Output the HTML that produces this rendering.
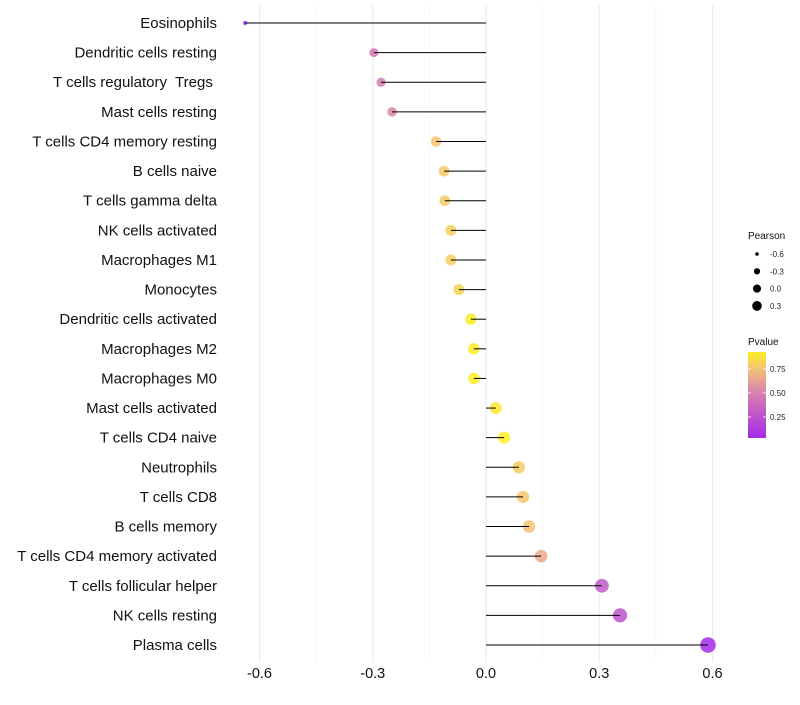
<!DOCTYPE html>
<html><head><meta charset="utf-8"><style>
body{margin:0;background:#fff;font-family:"Liberation Sans",sans-serif;}
svg text{font-family:"Liberation Sans",sans-serif;white-space:pre;}
</style></head><body>
<svg id="chart" width="800" height="700" xmlns="http://www.w3.org/2000/svg"></svg>
<script>
const categories=["Eosinophils","Dendritic cells resting","T cells regulatory  Tregs ","Mast cells resting","T cells CD4 memory resting","B cells naive","T cells gamma delta","NK cells activated","Macrophages M1","Monocytes","Dendritic cells activated","Macrophages M2","Macrophages M0","Mast cells activated","T cells CD4 naive","Neutrophils","T cells CD8","B cells memory","T cells CD4 memory activated","T cells follicular helper","NK cells resting","Plasma cells"];
const pearson=[-0.638,-0.297,-0.278,-0.249,-0.132,-0.111,-0.109,-0.093,-0.093,-0.072,-0.040,-0.032,-0.032,0.026,0.048,0.087,0.098,0.114,0.146,0.307,0.355,0.588];
const pvalue=[0.04,0.45,0.47,0.52,0.76,0.79,0.79,0.81,0.81,0.83,0.93,0.93,0.93,0.91,0.93,0.8,0.78,0.76,0.66,0.3,0.26,0.05];
const xTicks=[-0.6,-0.3,0.0,0.3,0.6];
const xTickLabels=["-0.6","-0.3","0.0","0.3","0.6"];
const sizeLegend=[-0.6,-0.3,0.0,0.3];
const sizeLegendLabels=["-0.6","-0.3","0.0","0.3"];
const colorLegend=[0.25,0.5,0.75];
const colorLegendLabels=["0.25","0.50","0.75"];

const NS="http://www.w3.org/2000/svg";
const svg=document.getElementById('chart');
const X=v=>486+v*377.5;
const Y=i=>23+i*29.62;
const R=v=>Math.sqrt(Math.max(1,34+46*v));
const stops=[[0,[160,32,240]],[0.5,[215,128,176]],[0.75,[243,192,120]],[1,[255,255,0]]];
function col(p){for(let i=1;i<stops.length;i++){if(p<=stops[i][0]){const a=stops[i-1],b=stops[i];const t=(p-a[0])/(b[0]-a[0]);const c=a[1].map((v,k)=>Math.round(v+(b[1][k]-v)*t));return `rgb(${c})`;}}return 'rgb(255,255,0)';}
function mk(tag,attrs,parent){const e=document.createElementNS(NS,tag);for(const k in attrs)e.setAttribute(k,attrs[k]);(parent||svg).appendChild(e);return e;}

const minor=[-0.45,-0.15,0.15,0.45];
minor.forEach(v=>{const l=mk('line',{x1:X(v),x2:X(v),y1:5,y2:662,stroke:'#f2f2f2','stroke-width':0.6});

});
xTicks.forEach((v,i)=>{const l=mk('line',{x1:X(v),x2:X(v),y1:5,y2:662,stroke:'#ebebeb','stroke-width':1.1});


const t=mk('text',{x:X(v),y:678,'text-anchor':'middle','font-size':14.5,fill:'#111'});t.textContent=xTickLabels[i];

});

categories.forEach((c,i)=>{
const t=mk('text',{x:217,y:Y(i)+5,'text-anchor':'end','font-size':15,fill:'#111'});t.textContent=c;


const p=mk('circle',{cx:X(pearson[i]),cy:Y(i),r:R(pearson[i]),fill:col(pvalue[i]),'fill-opacity':0.85});


const l=mk('line',{x1:X(0),x2:X(pearson[i]),y1:Y(i),y2:Y(i),stroke:'#000','stroke-width':1});


});

const st=mk('text',{x:748,y:239,'font-size':10,fill:'#111'});st.textContent='Pearson';


sizeLegend.forEach((v,i)=>{const y=254+i*17.3;
const c=mk('circle',{cx:757,cy:y,r:R(v)*0.7,fill:'#000'});


const t=mk('text',{x:770,y:y+3,'font-size':8,fill:'#222'});t.textContent=sizeLegendLabels[i];

});

const ct=mk('text',{x:748,y:345,'font-size':10,fill:'#111'});ct.textContent='Pvalue';


const defs=mk('defs',{});const g=mk('linearGradient',{id:'pg',x1:0,y1:1,x2:0,y2:0},defs);
for(let k=0;k<=10;k++){const p=0.04+k*0.089;mk('stop',{offset:k/10,'stop-color':col(p)},g);}
const bar=mk('rect',{x:748,y:352,width:18,height:86,fill:'url(#pg)'});


const CY=p=>441-p*96;
colorLegend.forEach((v,i)=>{
mk('line',{x1:748,x2:751,y1:CY(v),y2:CY(v),stroke:'#fff','stroke-width':0.8});
mk('line',{x1:763,x2:766,y1:CY(v),y2:CY(v),stroke:'#fff','stroke-width':0.8});
const t=mk('text',{x:770,y:CY(v)+3,'font-size':8,fill:'#222'});t.textContent=colorLegendLabels[i];

});
</script>
</body></html>
